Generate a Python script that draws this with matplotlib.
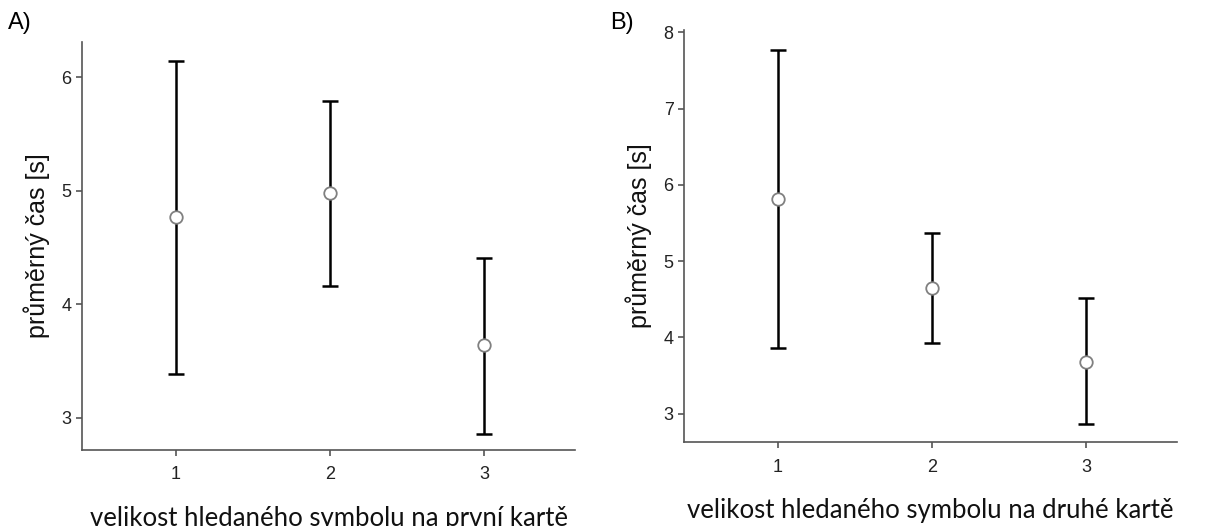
import matplotlib
matplotlib.use("Agg")
import matplotlib.pyplot as plt

plt.rcParams['font.family'] = ['Liberation Sans', 'DejaVu Sans']

sizes = [1, 2, 3]

# panel A - first card
mean_a = [4.77, 4.98, 3.64]
lower_a = [3.39, 4.16, 2.86]
upper_a = [6.14, 5.79, 4.41]

# panel B - second card
mean_b = [5.82, 4.65, 3.68]
lower_b = [3.86, 3.93, 2.86]
upper_b = [7.77, 5.37, 4.51]

ylabel = "průměrný čas [s]"
xlabel_a = "velikost hledaného symbolu na první kartě"
xlabel_b = "velikost hledaného symbolu na druhé kartě"

fig = plt.figure(figsize=(12.09, 5.26), dpi=100)
ax_a = fig.add_axes([0.0678, 0.145, 0.408, 0.775])
ax_b = fig.add_axes([0.5658, 0.160, 0.408, 0.783])


def draw_panel(ax, means, lows, highs, ylim, yticks, xlabel):
    err = [[m - lo for m, lo in zip(means, lows)],
           [hi - m for m, hi in zip(means, highs)]]
    ax.errorbar(sizes, means, yerr=err, fmt='none', ecolor='black',
                elinewidth=1.8, capsize=6, capthick=1.8, zorder=2)
    ax.plot(sizes, means, 'o', markersize=9, markerfacecolor='white',
            markeredgecolor='#808080', markeredgewidth=1.3, zorder=3)
    ax.set_xlim(0.39, 3.59)
    ax.set_ylim(*ylim)
    ax.set_xticks(sizes)
    ax.set_yticks(yticks)
    for side in ['top', 'right']:
        ax.spines[side].set_visible(False)
    for side in ['left', 'bottom']:
        ax.spines[side].set_color('#555555')
        ax.spines[side].set_linewidth(1.2)
    ax.tick_params(colors='#555555', labelcolor='#222222', labelsize=13,
                   length=4, width=1.2)
    ax.tick_params(axis='x', pad=8)
    ax.set_ylabel(ylabel, fontsize=18, labelpad=8, color='#111111')
    ax.set_xlabel(xlabel, fontsize=18.5, labelpad=16, color='#111111',
                  family=['Lato', 'DejaVu Sans'])


draw_panel(ax_a, mean_a, lower_a, upper_a, (2.72, 6.31), [3, 4, 5, 6],
           xlabel_a)
draw_panel(ax_b, mean_b, lower_b, upper_b, (2.63, 8.03), [3, 4, 5, 6, 7, 8],
           xlabel_b)

fig.text(8 / 1209, 1 - 12 / 526, "A)", fontsize=17, ha='left', va='top')
fig.text(610 / 1209, 1 - 12 / 526, "B)", fontsize=17, ha='left', va='top')

fig.savefig("out.png", dpi=100)
